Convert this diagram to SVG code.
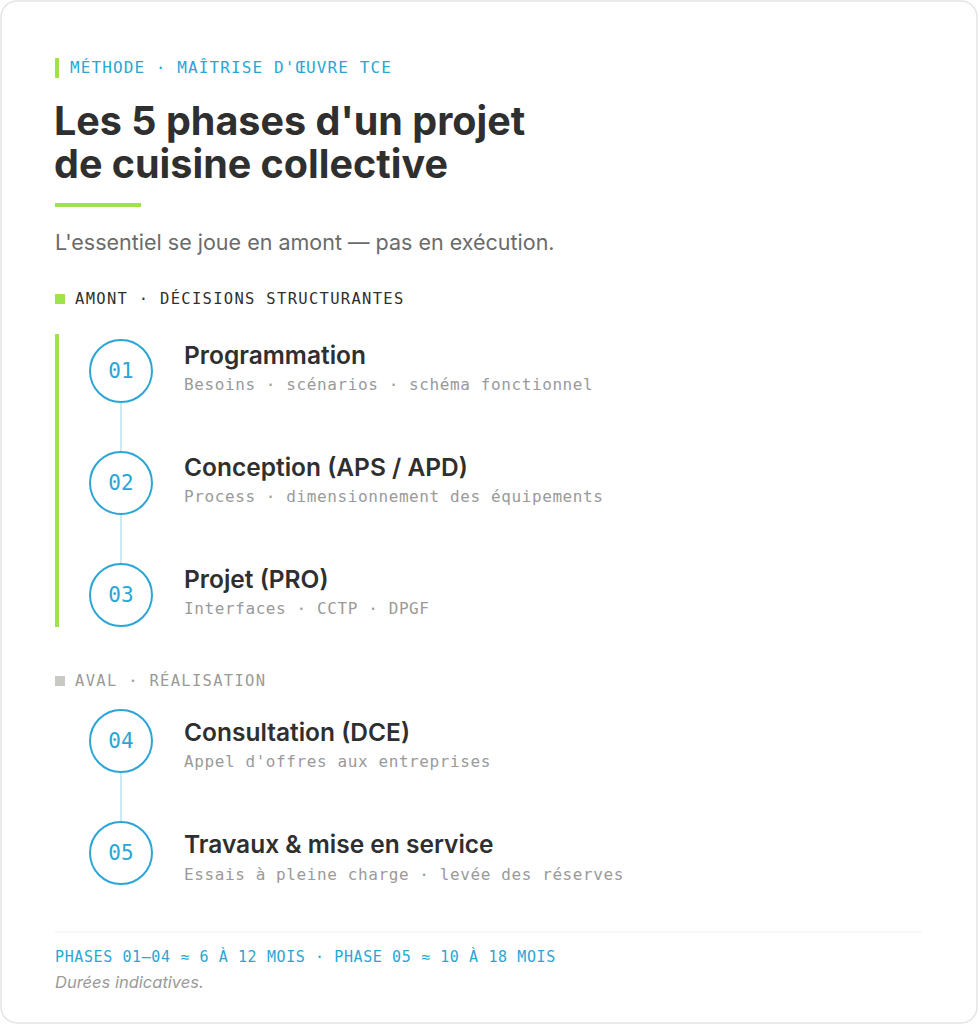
<svg xmlns="http://www.w3.org/2000/svg" width="978" height="1024" viewBox="0 0 978 1024">
<style>
.mono{font-family:"DejaVu Sans Mono","Liberation Mono",monospace}
.sans{font-family:Inter,"Liberation Sans",sans-serif}
.eyebrow{font-size:16px;fill:#2aa6d6;letter-spacing:1.1px}
.h1{font-size:39.5px;font-weight:700;fill:#2f2f2f}
.lede{font-size:21.5px;fill:#6b6b6b}
.sec{font-size:15.5px;letter-spacing:1.3px}
.num{font-size:21px;fill:#2aa6d6;text-anchor:middle}
.st{font-size:24.5px;font-weight:600;fill:#2f2f2f}
.sd{font-size:16px;fill:#9a9a9a;letter-spacing:0.6px}
.circ{fill:#fff;stroke:#2aa6d6;stroke-width:2}
.conn{stroke:#a9dcee;stroke-width:1.2}
</style>
<rect x="1" y="1" width="976" height="1022" rx="16" fill="#fff" stroke="#e4e4e2" stroke-width="1.5"/>
<rect x="55" y="58" width="4" height="20" fill="#9fe24a"/>
<text class="mono eyebrow" x="70" y="73">MÉTHODE · MAÎTRISE D'ŒUVRE TCE</text>
<text class="sans h1"><tspan x="54" y="135">Les 5 phases d'un projet</tspan><tspan x="54" y="178">de cuisine collective</tspan></text>
<rect x="55" y="203" width="86" height="4" fill="#9fe24a"/>
<text class="sans lede" x="55" y="250">L'essentiel se joue en amont — pas en exécution.</text>
<rect x="55" y="294" width="10" height="10" fill="#9fe24a"/>
<text class="mono sec" x="75" y="304" fill="#2f2f2f">AMONT · DÉCISIONS STRUCTURANTES</text>
<rect x="55" y="334" width="4" height="293" fill="#9fe24a"/>
<g id="connectors">
<line class="conn" x1="121" y1="402" x2="121" y2="452"/>
<line class="conn" x1="121" y1="514" x2="121" y2="564"/>
<line class="conn" x1="121" y1="772" x2="121" y2="822"/>
</g>
<g id="step1">
<circle class="circ" cx="121" cy="371" r="31"/>
<text class="mono num" x="121" y="378">01</text>
<text class="sans st" x="184" y="364">Programmation</text>
<text class="mono sd" x="184" y="390">Besoins · scénarios · schéma fonctionnel</text>
</g>
<g id="step2">
<circle class="circ" cx="121" cy="483" r="31"/>
<text class="mono num" x="121" y="490">02</text>
<text class="sans st" x="184" y="476">Conception (APS / APD)</text>
<text class="mono sd" x="184" y="502">Process · dimensionnement des équipements</text>
</g>
<g id="step3">
<circle class="circ" cx="121" cy="595" r="31"/>
<text class="mono num" x="121" y="602">03</text>
<text class="sans st" x="184" y="588">Projet (PRO)</text>
<text class="mono sd" x="184" y="614">Interfaces · CCTP · DPGF</text>
</g>
<rect x="55" y="676" width="10" height="10" fill="#c8c8c4"/>
<text class="mono sec" x="75" y="686" fill="#9a9a98">AVAL · RÉALISATION</text>
<g id="step4">
<circle class="circ" cx="121" cy="741" r="31"/>
<text class="mono num" x="121" y="748">04</text>
<text class="sans st" x="184" y="741">Consultation (DCE)</text>
<text class="mono sd" x="184" y="767">Appel d'offres aux entreprises</text>
</g>
<g id="step5">
<circle class="circ" cx="121" cy="853" r="31"/>
<text class="mono num" x="121" y="860">05</text>
<text class="sans st" x="184" y="853">Travaux &amp; mise en service</text>
<text class="mono sd" x="184" y="880">Essais à pleine charge · levée des réserves</text>
</g>
<line x1="55" y1="932" x2="922" y2="932" stroke="#efefed" stroke-width="1.2"/>
<text class="mono" x="55" y="962" font-size="15" fill="#2aa6d6" letter-spacing="0.6">PHASES 01–04 ≈ 6 À 12 MOIS · PHASE 05 ≈ 10 À 18 MOIS</text>
<text class="sans" x="55" y="988" font-size="16.5" font-style="italic" fill="#9a9a9a">Durées indicatives.</text>
</svg>
